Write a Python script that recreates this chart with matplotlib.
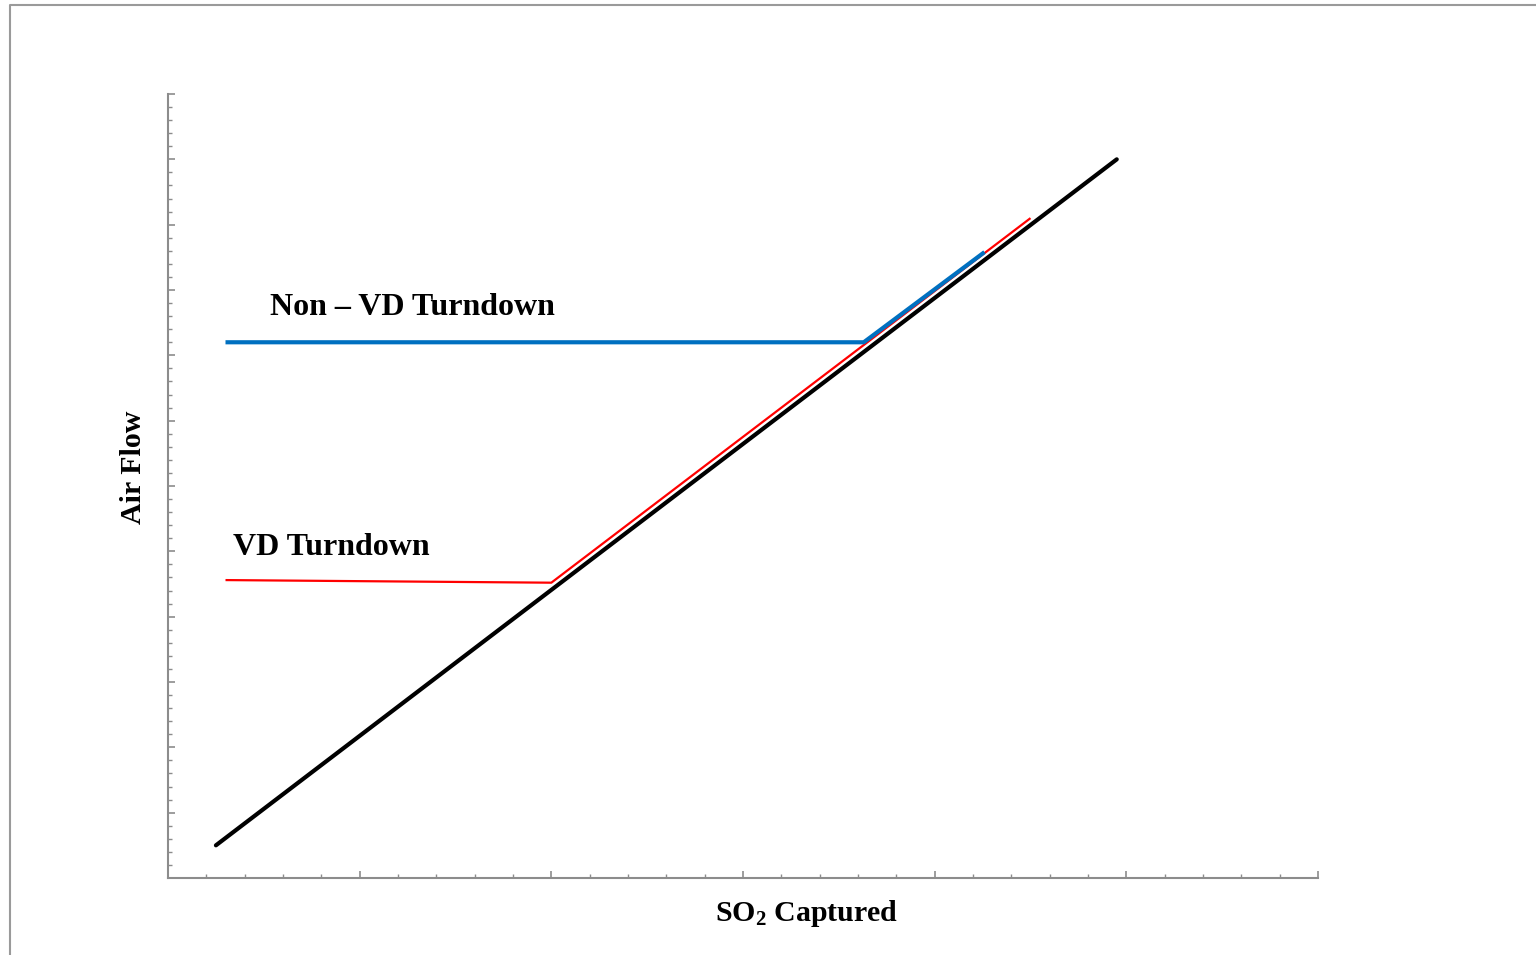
import matplotlib
matplotlib.use("Agg")
import matplotlib.pyplot as plt
from matplotlib.lines import Line2D
from matplotlib.ticker import MultipleLocator

plt.rcParams['font.family'] = ['Liberation Serif', 'DejaVu Serif']
plt.rcParams['mathtext.default'] = 'regular'

# data (axis units: x 0..6, y 0..12, no numbered scale in the original)
base_x = [0.25, 4.95]
base_y = [0.5, 11.0]

vd_x = [0.30, 2.00, 4.50]
vd_y = [4.56, 4.52, 10.10]

nonvd_x = [0.30, 3.63, 4.26]
nonvd_y = [8.20, 8.20, 9.58]

fig = plt.figure(figsize=(15.36, 9.55), dpi=100)
ax = fig.add_axes([168 / 1536, 1 - 878 / 955, 1150 / 1536, 784 / 955])

ax.plot(vd_x, vd_y, color='#FF0000', lw=1.6, solid_capstyle='butt')
ax.plot(nonvd_x, nonvd_y, color='#0070C0', lw=3.0, solid_capstyle='butt')
ax.plot(base_x, base_y, color='black', lw=3.0, solid_capstyle='round')

ax.text(0.53, 8.73, 'Non \u2013 VD Turndown', fontsize=23, fontweight='bold', va='center')
ax.text(0.34, 5.06, 'VD Turndown', fontsize=23, fontweight='bold', va='center')

ax.set_xlim(0, 6)
ax.set_ylim(0, 12)
ax.xaxis.set_major_locator(MultipleLocator(1))
ax.xaxis.set_minor_locator(MultipleLocator(0.2))
ax.yaxis.set_major_locator(MultipleLocator(1))
ax.yaxis.set_minor_locator(MultipleLocator(0.2))
ax.tick_params(which='both', direction='in', color='#8c8c8c', labelbottom=False, labelleft=False)
ax.tick_params(which='major', length=5, width=1.2)
ax.tick_params(which='minor', length=3, width=1.0)

for s in ['top', 'right']:
    ax.spines[s].set_visible(False)
for s in ['left', 'bottom']:
    ax.spines[s].set_color('#8c8c8c')
    ax.spines[s].set_linewidth(1.5)

ax.set_xlabel('SO$_2$ Captured', fontsize=21.5, fontweight='bold')
ax.xaxis.set_label_coords(0.555, -0.045)
ax.xaxis.label.set_va('center')
ax.set_ylabel('Air Flow', fontsize=21.5, fontweight='bold')
ax.yaxis.set_label_coords(-0.030, 0.524)
ax.yaxis.label.set_va('center')

# frame of the slide
fig.add_artist(Line2D([10 / 1536, 10 / 1536, 1.0], [0.0, 1 - 5 / 955, 1 - 5 / 955],
                      transform=fig.transFigure, color='#9a9a9a', lw=1.5))

fig.savefig('out.png', dpi=100)
